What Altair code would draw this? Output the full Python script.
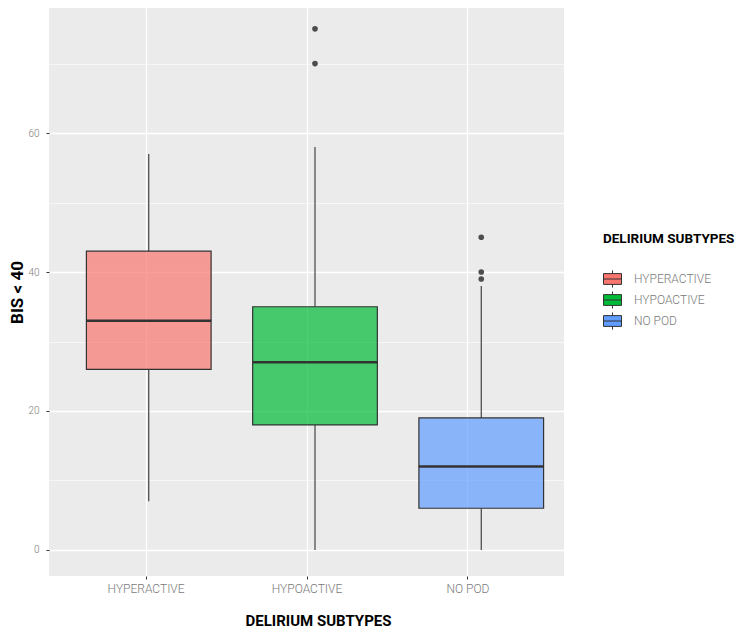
import altair as alt
import pandas as pd

categories = ["HYPERACTIVE", "HYPOACTIVE", "NO POD"]
whisker_low = [7, 0, 0]
q1 = [26, 18, 6]
median = [33, 27, 12]
q3 = [43, 35, 19]
whisker_high = [57, 58, 38]
outlier_cat = ["HYPOACTIVE", "HYPOACTIVE", "NO POD", "NO POD", "NO POD"]
outlier_val = [75, 70, 45, 40, 39]
fills = ["#F8766D", "#00BA38", "#619CFF"]
y_ticks = [0, 20, 40, 60]
y_minor = [10, 30, 50, 70]

boxes = pd.DataFrame({
    "cat": categories, "low": whisker_low, "q1": q1, "median": median,
    "q3": q3, "high": whisker_high,
})
outliers = pd.DataFrame({"cat": outlier_cat, "val": outlier_val})

FONT = "Roboto, Liberation Sans, sans-serif"

yscale = alt.Scale(domain=[-3.75, 78.0], nice=False, zero=False)
axis_x = alt.Scale(type="point", domain=categories, padding=0.6)
box_x = alt.Scale(type="band", domain=categories, range=[0, 532],
                  paddingInner=0.25, paddingOuter=0.225)

x_axis = alt.Axis(
    title="DELIRIUM SUBTYPES", grid=True, gridColor="white", gridWidth=1.3,
    domain=False, ticks=True, tickColor="#333333", tickSize=3, tickWidth=1,
    labelFont=FONT, labelFontSize=12, labelFontWeight=300, labelColor="#7a7a7a",
    labelPadding=4, labelAngle=0,
    titleFont=FONT, titleFontSize=15, titleFontWeight="bold", titleColor="black",
    titlePadding=19, titleX=269,
)
y_axis = alt.Axis(
    title="BIS < 40", values=y_ticks, grid=True, gridColor="white", gridWidth=1.3,
    domain=False, ticks=True, tickColor="#333333", tickSize=3, tickWidth=1,
    labelFont=FONT, labelFontSize=10, labelFontWeight=300, labelColor="#7a7a7a",
    labelPadding=7,
    titleFont=FONT, titleFontSize=17, titleFontWeight="bold", titleColor="black",
    titlePadding=1,
)
minor_axis = alt.Axis(
    values=y_minor, orient="right", labels=False, ticks=False, domain=False,
    title=None, grid=True, gridColor="white", gridWidth=0.6,
)

axis_layer = alt.Chart(boxes).mark_point(opacity=0).encode(
    x=alt.X("cat:N", scale=axis_x, axis=x_axis, sort=categories),
    y=alt.Y("median:Q", scale=yscale, axis=y_axis),
)

bx = alt.X("cat:N", scale=box_x, axis=None, sort=categories)
base = alt.Chart(boxes).encode(x=bx)

lower = base.mark_rule(color="#333333", strokeWidth=1.1).encode(
    y=alt.Y("low:Q", scale=yscale, axis=minor_axis), y2="q1:Q")
upper = base.mark_rule(color="#333333", strokeWidth=1.1).encode(
    y=alt.Y("q3:Q", scale=yscale, axis=minor_axis), y2="high:Q")
box = base.mark_bar(fillOpacity=0.7, stroke="#333333", strokeWidth=1.2).encode(
    y=alt.Y("q1:Q", scale=yscale, axis=minor_axis), y2="q3:Q",
    color=alt.Color(
        "cat:N", scale=alt.Scale(domain=categories, range=fills),
        legend=alt.Legend(
            title="DELIRIUM SUBTYPES", orient="none", legendX=554, legendY=224,
            titleFont=FONT, titleFontSize=13.5, titleFontWeight="bold",
            titleColor="black", titlePadding=24,
            labelFont=FONT, labelFontSize=12, labelFontWeight=300,
            labelColor="#7a7a7a", labelOffset=12,
            symbolType="M-1,-0.6H1V0.6H-1Z M-1,0H1 M0,-0.6V-0.95 M0,0.6V0.95",
            symbolSize=324, symbolStrokeColor="#333333", symbolStrokeWidth=1,
            rowPadding=-3,
        ),
    ),
)
med = base.mark_tick(color="#333333", thickness=2.5, size=125, opacity=1).encode(
    y=alt.Y("median:Q", scale=yscale, axis=minor_axis))
outl = alt.Chart(outliers).mark_circle(color="#4d4d4d", size=32, opacity=1).encode(
    x=bx, y=alt.Y("val:Q", scale=yscale, axis=minor_axis))

inner = alt.layer(lower, upper, box, med, outl)

chart = alt.layer(axis_layer, inner).resolve_scale(x="independent").resolve_axis(
    y="independent"
).properties(
    width=515, height=568,
    autosize=alt.AutoSizeParams(type="none"),
    padding={"left": 41, "top": 0, "right": 177, "bottom": 56},
).configure_view(fill="#EBEBEB", stroke=None)

chart.save("out.html", embed_options={"renderer": "svg", "actions": False})
